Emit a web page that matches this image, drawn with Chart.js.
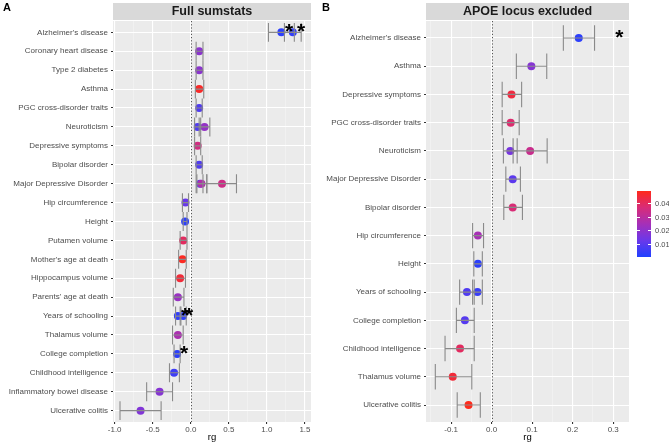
<!DOCTYPE html>
<html lang="en">
<head>
<meta charset="UTF-8" />
<title>Genetic correlations (rg)</title>
<script src="https://cdn.jsdelivr.net/npm/chart.js"></script>
<style>
  body { margin: 0; background: #fff; font-family: 'Liberation Sans', Arial, sans-serif; }
  #wrap { position: relative; width: 669px; height: 444px; overflow: hidden; }
  canvas { position: absolute; top: 0; }
  #leftChart { left: 0; }
  #rightChart { left: 318px; }
  .tag { position: absolute; top: 1px; font-weight: bold; font-size: 11px; color: #000; }
  #bar { position: absolute; left: 637px; top: 191px; width: 14px; height: 66px; }
  .lg { position: absolute; left: 655px; font-size: 7.5px; color: #4d4d4d; transform: translateY(-50%); }
  .tk { position: absolute; width: 3px; height: 1px; background: #fff; }
</style>
</head>
<body>
<div id="wrap">
  <canvas id="leftChart" width="330" height="444"></canvas>
  <canvas id="rightChart" width="351" height="444"></canvas>
  <div class="tag" style="left:3px">A</div>
  <div class="tag" style="left:322px">B</div>
  <div id="bar"></div>
</div>

<script>
// ---- data: full sumstats (panel A) ----
const leftTraits = ["Alzheimer's disease", "Coronary heart disease", "Type 2 diabetes", "Asthma",
  "PGC cross-disorder traits", "Neuroticism", "Depressive symptoms", "Bipolar disorder",
  "Major Depressive Disorder", "Hip circumference", "Height", "Putamen volume",
  "Mother's age at death", "Hippocampus volume", "Parents' age at death", "Years of schooling",
  "Thalamus volume", "College completion", "Childhood intelligence",
  "Inflammatory bowel disease", "Ulcerative colitis"];
const leftPointTrait = ["Alzheimer's disease", "Alzheimer's disease", "Coronary heart disease", "Type 2 diabetes",
  "Asthma", "PGC cross-disorder traits", "Neuroticism", "Neuroticism", "Depressive symptoms",
  "Bipolar disorder", "Major Depressive Disorder", "Major Depressive Disorder", "Major Depressive Disorder",
  "Hip circumference", "Height", "Putamen volume", "Mother's age at death", "Hippocampus volume",
  "Parents' age at death", "Years of schooling", "Years of schooling", "Thalamus volume",
  "College completion", "Childhood intelligence", "Inflammatory bowel disease", "Ulcerative colitis"];
const leftRg = [1.19, 1.34, 0.11, 0.11, 0.11, 0.11, 0.09, 0.18, 0.09, 0.11, 0.12, 0.14, 0.41,
  -0.07, -0.075, -0.10, -0.11, -0.14, -0.17, -0.17, -0.10, -0.17, -0.18, -0.22, -0.41, -0.66];
const leftLo = [1.02, 1.23, 0.07, 0.07, 0.06, 0.07, 0.05, 0.11, 0.05, 0.07, 0.07, 0.08, 0.21,
  -0.11, -0.10, -0.14, -0.16, -0.20, -0.23, -0.20, -0.14, -0.24, -0.22, -0.28, -0.58, -0.93];
const leftHi = [1.36, 1.45, 0.16, 0.16, 0.17, 0.15, 0.13, 0.25, 0.13, 0.15, 0.16, 0.21, 0.60,
  -0.03, -0.05, -0.05, -0.06, -0.07, -0.09, -0.13, -0.06, -0.10, -0.14, -0.15, -0.24, -0.39];
const leftP = [0.002, 0.003, 0.019, 0.019, 0.047, 0.008, 0.008, 0.021, 0.035, 0.008, 0.008, 0.027, 0.034,
  0.012, 0.002, 0.040, 0.048, 0.045, 0.022, 0.003, 0.002, 0.026, 0.002, 0.005, 0.018, 0.017];
const leftStarTrait = ["Alzheimer's disease", "Alzheimer's disease", "Years of schooling", "Years of schooling", "College completion"];
const leftStarX = [1.29, 1.45, -0.075, -0.022, -0.088];
const leftXTicks = [-1, -0.75, -0.5, -0.25, 0, 0.25, 0.5, 0.75, 1, 1.25, 1.5];

// ---- data: APOE locus excluded (panel B) ----
const rightTraits = ["Alzheimer's disease", "Asthma", "Depressive symptoms", "PGC cross-disorder traits",
  "Neuroticism", "Major Depressive Disorder", "Bipolar disorder", "Hip circumference", "Height",
  "Years of schooling", "College completion", "Childhood intelligence", "Thalamus volume", "Ulcerative colitis"];
const rightPointTrait = ["Alzheimer's disease", "Asthma", "Depressive symptoms", "PGC cross-disorder traits",
  "Neuroticism", "Neuroticism", "Major Depressive Disorder", "Bipolar disorder", "Hip circumference",
  "Height", "Years of schooling", "Years of schooling", "College completion", "Childhood intelligence",
  "Thalamus volume", "Ulcerative colitis"];
const rightRg = [0.215, 0.098, 0.049, 0.047, 0.046, 0.095, 0.052, 0.052, -0.034, -0.034,
  -0.061, -0.035, -0.066, -0.078, -0.096, -0.057];
const rightLo = [0.177, 0.061, 0.026, 0.026, 0.029, 0.053, 0.035, 0.030, -0.047, -0.044,
  -0.079, -0.047, -0.087, -0.115, -0.139, -0.085];
const rightHi = [0.254, 0.136, 0.074, 0.068, 0.063, 0.137, 0.071, 0.076, -0.020, -0.023,
  -0.043, -0.023, -0.043, -0.043, -0.049, -0.028];
const rightP = [0.002, 0.018, 0.044, 0.038, 0.015, 0.033, 0.010, 0.037, 0.025, 0.002,
  0.008, 0.004, 0.009, 0.040, 0.045, 0.049];
const rightStarTrait = ["Alzheimer's disease"];
const rightStarX = [0.315];
const rightXTicks = [-0.15, -0.1, -0.05, 0, 0.05, 0.1, 0.15, 0.2, 0.25, 0.3];

// colour scale (p value)
const pMin = 0, pMax = 0.049;
const legendTicks = [0.01, 0.02, 0.03, 0.04];
const colorStops = ['#2040ff', '#6a38ea', '#a530b8', '#d82c78', '#ff2a1a'];

const FONT = "'Liberation Sans', Arial, sans-serif";

function hexRgb(h) {
  return [1, 3, 5].map(i => parseInt(h.slice(i, i + 2), 16));
}
function pColor(p) {
  const n = colorStops.length - 1;
  const t = Math.min(1, Math.max(0, (p - pMin) / (pMax - pMin))) * n;
  const i = Math.min(Math.floor(t), n - 1);
  const f = t - i;
  const a = hexRgb(colorStops[i]), b = hexRgb(colorStops[i + 1]);
  const c = a.map((v, k) => Math.round(v + (b[k] - v) * f));
  return `rgb(${c[0]},${c[1]},${c[2]})`;
}
function fmt(v) {
  return Math.abs(v) < 1e-9 ? '0.0' : v.toFixed(1);
}

function makeChart(canvasId, cfg) {
  const rows = cfg.pointTrait.map(t => cfg.traits.indexOf(t));
  const isMajor = v => Math.abs(v / cfg.majorStep - Math.round(v / cfg.majorStep)) < 1e-6;

  const panel = {
    id: 'panel',
    beforeDraw(chart) {
      const { ctx, chartArea: a } = chart;
      ctx.save();
      ctx.fillStyle = '#ebebeb';
      ctx.fillRect(a.left, a.top, a.right - a.left, a.bottom - a.top);
      // facet strip
      ctx.fillStyle = '#d9d9d9';
      ctx.fillRect(a.left, 3, a.right - a.left, a.top - 4);
      ctx.fillStyle = '#1a1a1a';
      ctx.font = 'bold 12.5px ' + FONT;
      ctx.textAlign = 'center';
      ctx.textBaseline = 'middle';
      ctx.fillText(cfg.title, (a.left + a.right) / 2, (a.top + 2) / 2 + 0.5);
      ctx.restore();
    },
    beforeDatasetsDraw(chart) {
      const { ctx, chartArea: a } = chart;
      const x0 = Math.round(chart.scales.x.getPixelForValue(0)) + 0.5;
      ctx.save();
      ctx.strokeStyle = '#555';
      ctx.lineWidth = 1;
      ctx.setLineDash([1.2, 2]);
      ctx.beginPath();
      ctx.moveTo(x0, a.top);
      ctx.lineTo(x0, a.bottom);
      ctx.stroke();
      ctx.restore();
    },
    afterDatasetsDraw(chart) {
      const { ctx } = chart;
      const xs = chart.scales.x, ys = chart.scales.y;
      ctx.save();
      ctx.strokeStyle = '#8a8a8a';
      ctx.lineWidth = 1.1;
      rows.forEach((r, i) => {
        const y = ys.getPixelForValue(r);
        const h = Math.abs(ys.getPixelForValue(r + cfg.capHalf) - y);
        const x1 = xs.getPixelForValue(cfg.lo[i]);
        const x2 = xs.getPixelForValue(cfg.hi[i]);
        ctx.beginPath();
        ctx.moveTo(x1, y); ctx.lineTo(x2, y);
        ctx.moveTo(x1, y - h); ctx.lineTo(x1, y + h);
        ctx.moveTo(x2, y - h); ctx.lineTo(x2, y + h);
        ctx.stroke();
      });
      // significance stars
      ctx.fillStyle = '#000';
      ctx.font = 'bold 21px ' + FONT;
      ctx.textAlign = 'center';
      ctx.textBaseline = 'alphabetic';
      cfg.starTrait.forEach((t, i) => {
        const y = ys.getPixelForValue(cfg.traits.indexOf(t));
        ctx.fillText('*', xs.getPixelForValue(cfg.starX[i]), y - 6 + 12);
      });
      ctx.restore();
    }
  };

  return new Chart(document.getElementById(canvasId), {
    type: 'scatter',
    data: {
      datasets: [{
        data: cfg.rg.map((x, i) => ({ x, y: rows[i] })),
        pointBackgroundColor: cfg.p.map(pColor),
        pointBorderWidth: 0,
        pointRadius: 4,
        pointHoverRadius: 4
      }]
    },
    options: {
      responsive: false,
      animation: false,
      layout: { padding: { top: 21, right: cfg.padRight, left: 0, bottom: 0 } },
      plugins: { legend: { display: false }, tooltip: { enabled: false } },
      scales: {
        x: {
          type: 'linear',
          min: cfg.xMin,
          max: cfg.xMax,
          afterBuildTicks: s => { s.ticks = cfg.xTicks.map(v => ({ value: v })); },
          afterFit: s => { s.height = 22; },
          ticks: {
            autoSkip: false, maxRotation: 0, minRotation: 0, padding: 1,
            color: '#4d4d4d', font: { size: 8, family: FONT },
            callback: v => isMajor(v) ? fmt(v) : ''
          },
          grid: {
            color: c => (c.tick && isMajor(c.tick.value)) ? '#ffffff' : 'rgba(255,255,255,0.6)',
            lineWidth: c => (c.tick && isMajor(c.tick.value)) ? 1.1 : 0.5,
            tickColor: c => (c.tick && isMajor(c.tick.value)) ? '#333' : 'rgba(0,0,0,0)',
            tickLength: 2
          },
          border: { display: false },
          title: { display: true, text: 'rg', color: '#000', font: { size: 9.5, family: FONT }, padding: { top: 0, bottom: 1 } }
        },
        y: {
          type: 'linear',
          reverse: true,
          min: -0.6,
          max: cfg.traits.length - 0.4,
          afterBuildTicks: s => { s.ticks = cfg.traits.map((_, i) => ({ value: i })); },
          afterFit: s => { s.width = cfg.yWidth; },
          ticks: {
            autoSkip: false, padding: 3,
            color: '#4d4d4d', font: { size: 8, family: FONT },
            callback: v => cfg.traits[v]
          },
          grid: { color: '#ffffff', lineWidth: 1.1, tickColor: '#333', tickLength: 2 },
          border: { display: false }
        }
      }
    },
    plugins: [panel]
  });
}

makeChart('leftChart', {
  title: 'Full sumstats', traits: leftTraits, pointTrait: leftPointTrait,
  rg: leftRg, lo: leftLo, hi: leftHi, p: leftP,
  starTrait: leftStarTrait, starX: leftStarX,
  xTicks: leftXTicks, majorStep: 0.5, xMin: -1.022, xMax: 1.579,
  yWidth: 113, padRight: 19, capHalf: 0.5
});

makeChart('rightChart', {
  title: 'APOE locus excluded', traits: rightTraits, pointTrait: rightPointTrait,
  rg: rightRg, lo: rightLo, hi: rightHi, p: rightP,
  starTrait: rightStarTrait, starX: rightStarX,
  xTicks: rightXTicks, majorStep: 0.1, xMin: -0.162, xMax: 0.339,
  yWidth: 108, padRight: 40, capHalf: 0.45
});

// colour bar legend
const bar = document.getElementById('bar');
bar.style.background = 'linear-gradient(to top, ' + colorStops.join(', ') + ')';
const wrap = document.getElementById('wrap');
legendTicks.forEach(v => {
  const top = 191 + (pMax - v) / (pMax - pMin) * 66;
  const lab = document.createElement('div');
  lab.className = 'lg';
  lab.style.top = top + 'px';
  lab.textContent = v.toFixed(2);
  wrap.appendChild(lab);
  [637, 648].forEach(left => {
    const t = document.createElement('div');
    t.className = 'tk';
    t.style.left = left + 'px';
    t.style.top = Math.round(top) + 'px';
    wrap.appendChild(t);
  });
});
</script>
</body>
</html>
